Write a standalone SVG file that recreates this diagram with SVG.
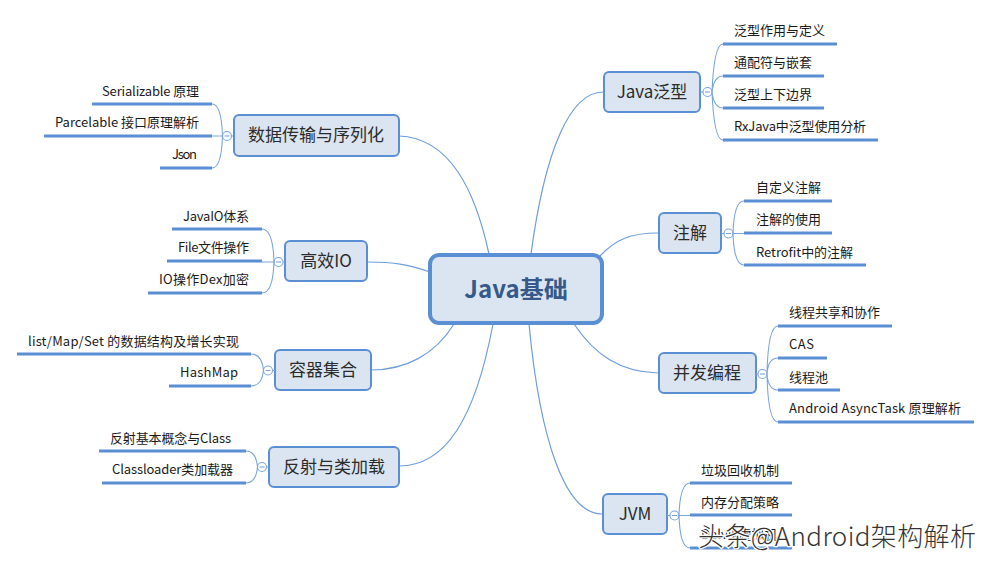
<svg xmlns="http://www.w3.org/2000/svg" width="992" height="564" viewBox="0 0 992 564">
<style>
text{font-family:"Noto Sans CJK SC","Noto Sans",sans-serif;}
.topic{fill:#dbe5f1;stroke:#5b8fd4;stroke-width:2;}
.tt{font-size:17px;fill:#2b2b2b;text-anchor:middle;}
.ct{font-size:13px;fill:#1a1a1a;}
.l{text-anchor:end;}
.ul{stroke:#5b8fd4;stroke-width:3;fill:none;}
.br{stroke:#7aa5dc;stroke-width:1.1;fill:none;}
.cc{fill:#fff;stroke:#7aa5dc;stroke-width:1.1;}
.cm{stroke:#7aa5dc;stroke-width:1.1;}
.con{stroke:#6e9ddc;stroke-width:1.2;fill:none;}
</style>
<rect width="992" height="564" fill="#fff"/>
<g id="connectors">
<path class="con" d="M489 254 C475 190,450 138,399 136"/>
<path class="con" d="M430 272 C410 265,395 262,367 262"/>
<path class="con" d="M454 324 C435 355,405 370,371 370"/>
<path class="con" d="M493 324 C475 420,445 466,399 466"/>
<path class="con" d="M531 254 C545 150,570 92,603 92"/>
<path class="con" d="M600 256 C615 240,630 233,658 233"/>
<path class="con" d="M574 324 C595 355,620 372,658 373"/>
<path class="con" d="M529 324 C540 440,565 514,602 514"/>
</g>
<g id="root">
<rect x="430" y="255" width="172" height="68" rx="9" fill="#dbe5f1" stroke="#5b8fd4" stroke-width="4"/>
<text x="516" y="298" text-anchor="middle" font-size="24" font-weight="bold" fill="#34598a">Java基础</text>
</g>
<g id="n-serial">
<rect class="topic" x="234" y="115" width="165" height="41" rx="5"/>
<text class="tt" x="316" y="141">数据传输与序列化</text>
<line class="br" x1="231" y1="136" x2="233" y2="136"/>
<circle class="cc" cx="227" cy="136" r="4.5"/><line class="cm" x1="224.5" y1="136" x2="229.5" y2="136"/>
<path class="br" d="M222.5 136 Q221.5 104 212 104 M222.5 136 H212 M222.5 136 Q221.5 168 212 168"/>
<path class="ul" d="M92 104 H212 M44 136 H212 M160 168 H212"/>
<text class="ct l" x="199" y="96" textLength="97">Serializable 原理</text>
<text class="ct l" x="199" y="127" textLength="144">Parcelable 接口原理解析</text>
<text class="ct l" x="197" y="159" textLength="25">Json</text>
</g>
<g id="n-io">
<rect class="topic" x="285" y="241" width="82" height="40" rx="5"/>
<text class="tt" x="326" y="267">高效IO</text>
<circle class="cc" cx="278.5" cy="262" r="4.5"/><line class="cm" x1="276" y1="262" x2="281" y2="262"/>
<line class="br" x1="283" y1="262" x2="285" y2="262"/>
<path class="br" d="M274 262 Q273 229 262 229 M274 262 H262 M274 262 Q273 293 262 293"/>
<path class="ul" d="M172 229 H262 M167 261 H262 M148 293 H262"/>
<text class="ct l" x="249" y="221" textLength="66">JavaIO体系</text>
<text class="ct l" x="249" y="252" textLength="71">File文件操作</text>
<text class="ct l" x="249" y="284" textLength="90">IO操作Dex加密</text>
</g>
<g id="n-collection">
<rect class="topic" x="275" y="350" width="96" height="40" rx="5"/>
<text class="tt" x="323" y="376">容器集合</text>
<circle class="cc" cx="268" cy="370.5" r="4.5"/><line class="cm" x1="265.5" y1="370.5" x2="270.5" y2="370.5"/>
<line class="br" x1="272.5" y1="370.5" x2="275" y2="370.5"/>
<path class="br" d="M263.5 370.5 Q262 354 251 354 M263.5 370.5 Q262 386 251 386"/>
<path class="ul" d="M17 354 H251 M169 386 H251"/>
<text class="ct l" x="239" y="346" textLength="211">list/Map/Set 的数据结构及增长实现</text>
<text class="ct l" x="238" y="377" textLength="58">HashMap</text>
</g>
<g id="n-reflect">
<rect class="topic" x="269" y="447" width="130" height="40" rx="5"/>
<text class="tt" x="334" y="473">反射与类加载</text>
<circle class="cc" cx="262" cy="467" r="4.5"/><line class="cm" x1="259.5" y1="467" x2="264.5" y2="467"/>
<line class="br" x1="266.5" y1="467" x2="269" y2="467"/>
<path class="br" d="M257.5 467 Q256 451 246 451 M257.5 467 Q256 483 246 483"/>
<path class="ul" d="M99 451 H246 M102 483 H246"/>
<text class="ct l" x="231" y="443" textLength="121">反射基本概念与Class</text>
<text class="ct l" x="233" y="474" textLength="121">Classloader类加载器</text>
</g>
<g id="n-generic">
<rect class="topic" x="604" y="72" width="96" height="40" rx="5"/>
<text class="tt" x="652" y="98">Java泛型</text>
<line class="br" x1="700" y1="92" x2="703" y2="92"/>
<circle class="cc" cx="707.5" cy="92" r="4.5"/><line class="cm" x1="705" y1="92" x2="710" y2="92"/>
<path class="br" d="M712 92 Q714 44 723 44 M712 92 Q714 76 723 76 M712 92 Q714 108 723 108 M712 92 Q714 140 723 140"/>
<path class="ul" d="M723 44 H837 M723 76 H824 M723 108 H824 M723 140 H878"/>
<text class="ct" x="734" y="35" textLength="91">泛型作用与定义</text>
<text class="ct" x="734" y="67" textLength="78">通配符与嵌套</text>
<text class="ct" x="734" y="99" textLength="78">泛型上下边界</text>
<text class="ct" x="734" y="131" textLength="132">RxJava中泛型使用分析</text>
</g>
<g id="n-annotation">
<rect class="topic" x="659" y="213" width="62" height="40" rx="5"/>
<text class="tt" x="690" y="239">注解</text>
<line class="br" x1="721" y1="233.5" x2="724" y2="233.5"/>
<circle class="cc" cx="728.5" cy="233.5" r="4.5"/><line class="cm" x1="726" y1="233.5" x2="731" y2="233.5"/>
<path class="br" d="M733 233.5 Q734 201 744 201 M733 233.5 H744 M733 233.5 Q734 265 744 265"/>
<path class="ul" d="M744 201 H832 M744 233 H832 M744 265 H866"/>
<text class="ct" x="756" y="192" textLength="65">自定义注解</text>
<text class="ct" x="756" y="224" textLength="65">注解的使用</text>
<text class="ct" x="756" y="257" textLength="97">Retrofit中的注解</text>
</g>
<g id="n-concurrent">
<rect class="topic" x="659" y="353" width="97" height="40" rx="5"/>
<text class="tt" x="707" y="379">并发编程</text>
<line class="br" x1="756" y1="374" x2="758" y2="374"/>
<circle class="cc" cx="762.5" cy="374" r="4.5"/><line class="cm" x1="760" y1="374" x2="765" y2="374"/>
<path class="br" d="M767 374 Q768 326 778 326 M767 374 Q768 358 778 358 M767 374 Q768 390 778 390 M767 374 Q768 422 778 422"/>
<path class="ul" d="M778 326 H892 M778 358 H827 M778 390 H840 M778 422 H974"/>
<text class="ct" x="789" y="317" textLength="91">线程共享和协作</text>
<text class="ct" x="789" y="349" textLength="25">CAS</text>
<text class="ct" x="789" y="382" textLength="39">线程池</text>
<text class="ct" x="789" y="413" textLength="172">Android AsyncTask 原理解析</text>
</g>
<g id="n-jvm">
<rect class="topic" x="603" y="494" width="64" height="40" rx="5"/>
<text class="tt" x="635" y="520">JVM</text>
<line class="br" x1="667" y1="515.5" x2="670" y2="515.5"/>
<circle class="cc" cx="674.5" cy="515.5" r="4.5"/><line class="cm" x1="672" y1="515.5" x2="677" y2="515.5"/>
<path class="br" d="M679 515.5 Q680 483 690 483 M679 515.5 H690 M679 515.5 Q680 548 690 548"/>
<path class="ul" d="M690 483 H792 M690 515 H792 M690 548 H792"/>
<text class="ct" x="701" y="475" textLength="78">垃圾回收机制</text>
<text class="ct" x="701" y="507" textLength="78">内存分配策略</text>
<text class="ct" x="701" y="539">Dalvik虚拟机</text>
</g>
<g id="watermark">
<text x="698" y="546" font-size="26" textLength="278" fill="#333" stroke="#fff" stroke-width="2.5" paint-order="stroke" font-weight="300">头条@Android架构解析</text>
</g>
</svg>
